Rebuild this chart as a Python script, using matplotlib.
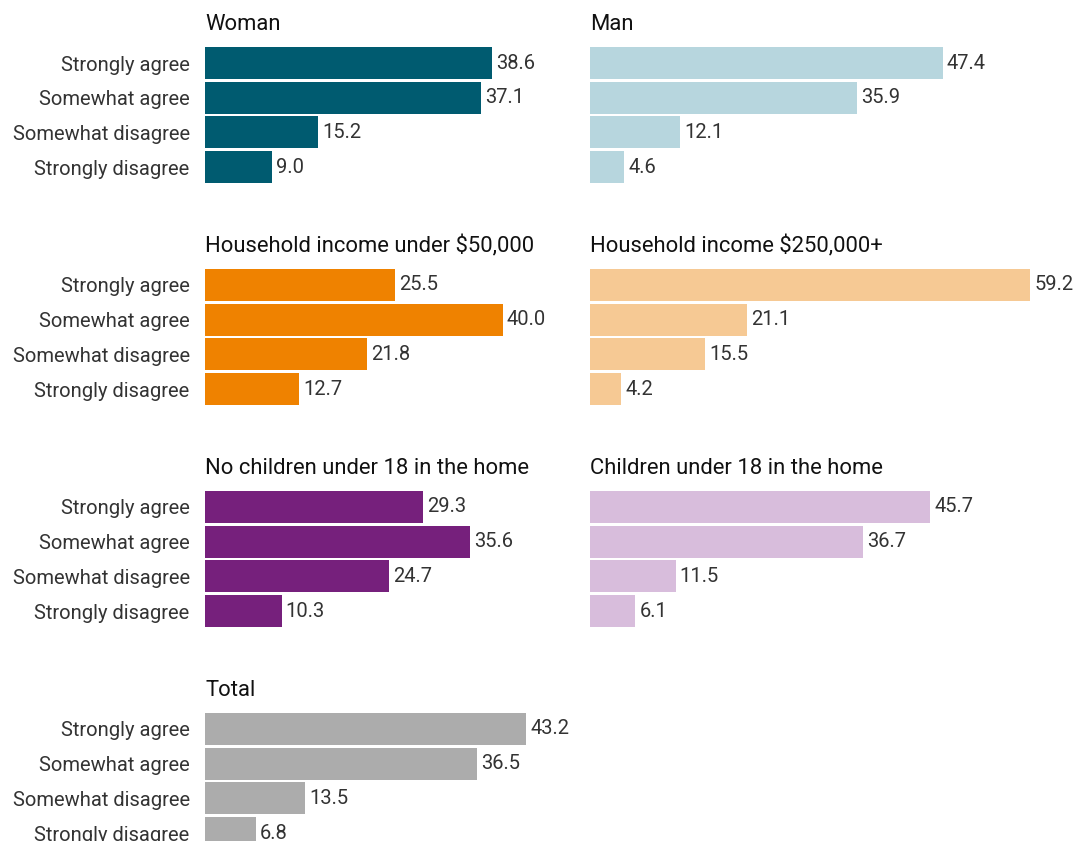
import matplotlib
matplotlib.use("Agg")
import matplotlib.pyplot as plt

# Response categories, same for every panel
categories = ["Strongly agree", "Somewhat agree", "Somewhat disagree", "Strongly disagree"]

# Panel values (percent)
woman = [38.6, 37.1, 15.2, 9.0]
man = [47.4, 35.9, 12.1, 4.6]
income_low = [25.5, 40.0, 21.8, 12.7]
income_high = [59.2, 21.1, 15.5, 4.2]
no_children = [29.3, 35.6, 24.7, 10.3]
children = [45.7, 36.7, 11.5, 6.1]
total = [43.2, 36.5, 13.5, 6.8]

panels = [
    ("Woman", woman, "#005b70", 0, 0),
    ("Man", man, "#b7d6de", 0, 1),
    ("Household income under $50,000", income_low, "#ef8200", 1, 0),
    ("Household income $250,000+", income_high, "#f6c994", 1, 1),
    ("No children under 18 in the home", no_children, "#76207c", 2, 0),
    ("Children under 18 in the home", children, "#d8bddc", 2, 1),
    ("Total", total, "#acacac", 3, 0),
]

plt.rcParams['font.family'] = ['Roboto', 'DejaVu Sans']

W, H = 1074, 841
fig = plt.figure(figsize=(W / 100, H / 100), dpi=100)

PX_PER_UNIT = 7.44
ROW_STEP = 222
SLOT = 34.7
TOP0 = 63 - SLOT / 2
COL_LEFT = [205, 590]
COL_WIDTH = [360, 470]

for title, vals, color, row, col in panels:
    top = TOP0 + ROW_STEP * row
    h = SLOT * 4
    left = COL_LEFT[col]
    w = COL_WIDTH[col]
    ax = fig.add_axes([left / W, 1 - (top + h) / H, w / W, h / H])
    y = list(range(len(categories)))
    ax.barh(y, vals, height=0.92, color=color, clip_on=False)
    ax.set_xlim(0, w / PX_PER_UNIT)
    ax.set_ylim(3.5, -0.5)
    for yi, v in zip(y, vals):
        ax.annotate(f"{v:.1f}", (v, yi), xytext=(3, 0), textcoords="offset points",
                    va="center", ha="left", fontsize=14.5, color="#333333")
    ax.set_xticks([])
    ax.set_yticks(y)
    if col == 0:
        ax.set_yticklabels(categories, fontsize=14.5, color="#333333")
    else:
        ax.set_yticklabels([])
    ax.tick_params(axis="y", length=0, pad=11)
    for s in ax.spines.values():
        s.set_visible(False)
    ax.annotate(title, (0, 1), xycoords="axes fraction", xytext=(0, 11),
                textcoords="offset points", ha="left", va="baseline",
                fontsize=15.8, color="#111111")

fig.savefig("out.png", dpi=100)
